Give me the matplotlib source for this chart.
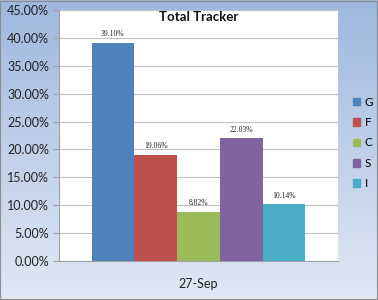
import numpy as np
import matplotlib
matplotlib.use("Agg")
import matplotlib.pyplot as plt
from matplotlib.ticker import FuncFormatter

series = ["G", "F", "C", "S", "I"]
values = [39.10, 19.06, 8.82, 22.03, 10.14]
colors = ["#4F81BD", "#C0504D", "#9BBB59", "#8064A2", "#4BACC6"]
category = "27-Sep"
title = "Total Tracker"

plt.rcParams['font.family'] = ['Lato', 'DejaVu Sans']

fig = plt.figure(figsize=(3.78, 3.0), dpi=100)

# gradient background
bg = fig.add_axes([0, 0, 1, 1], zorder=-10)
grad = np.linspace(0, 1, 256).reshape(-1, 1)
top = np.array([0.62, 0.72, 0.87])
bot = np.array([0.88, 0.91, 0.96])
img = top[None, None, :] * (1 - grad[:, :, None]) + bot[None, None, :] * grad[:, :, None]
bg.imshow(img, aspect='auto', extent=[0, 1, 0, 1])
bg.set_xlim(0, 1); bg.set_ylim(0, 1)
bg.axis('off')
bg.add_patch(plt.Rectangle((0.001, 0.002), 0.997, 0.995, fill=False, ec="#8c8c8c", lw=0.8, transform=bg.transAxes))

ax = fig.add_axes([59/378, 1 - 261/300, (338 - 59)/378, (261 - 10)/300])
ax.set_facecolor("white")

n = len(series)
group = 0.767
w = group / n
for i, (s, v, c) in enumerate(zip(series, values, colors)):
    x = -group / 2 + w * (i + 0.5)
    ax.bar(x, v, width=w, color=c, label=s, zorder=3)
    ax.text(x, v + 0.8, f"{v:.2f}%", ha='center', va='bottom', fontsize=5.5,
            family=['Liberation Serif'], color="#222222", zorder=4)

ax.set_xlim(-0.5, 0.5)
ax.set_ylim(0, 45)
ax.set_yticks(np.arange(0, 46, 5))
ax.yaxis.set_major_formatter(FuncFormatter(lambda y, p: f"{y:.2f}%"))
ax.grid(axis='y', color="#c0c0c0", lw=0.8, zorder=0)
ax.set_xticks([0])
ax.set_xticklabels([category])
ax.tick_params(axis='x', length=0, pad=12, labelsize=9, colors="#222222")
ax.tick_params(axis='y', length=4, width=0.8, color="#a0a0a0", labelsize=9, labelcolor="#222222", pad=3)
for side in ['top', 'right']:
    ax.spines[side].set_visible(False)
ax.spines['left'].set_color("#a0a0a0")
ax.spines['bottom'].set_color("#a0a0a0")

fig.text(199/378, 1 - 17/300, title, ha='center', va='center', fontsize=9.5,
         fontweight='bold', color="#111111")

handles = [plt.Rectangle((0, 0), 1, 1, color=c) for c in colors]
fig.legend(handles, series, loc='center left', bbox_to_anchor=(347/378, 1 - 143/300),
           frameon=False, fontsize=8.5, handlelength=0.6, handleheight=0.6,
           handletextpad=0.4, labelspacing=0.8, borderpad=0)

fig.savefig("out.png", dpi=100)
